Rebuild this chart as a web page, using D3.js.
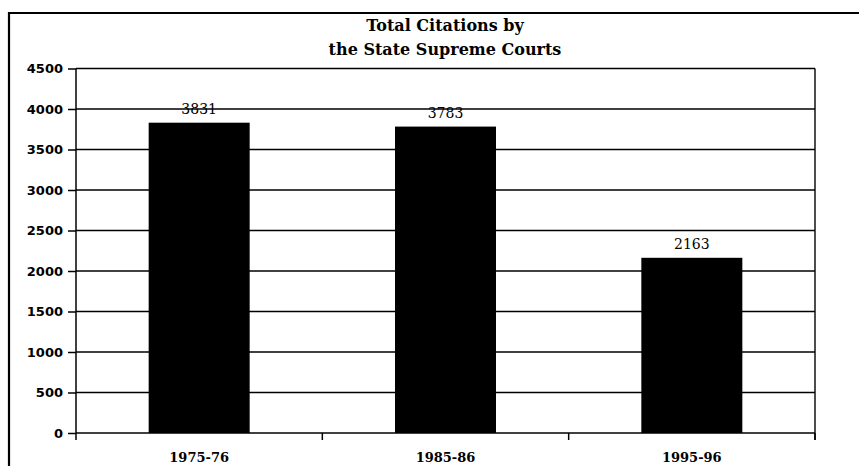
<!DOCTYPE html>
<html><head><meta charset="utf-8">
<script src="https://cdn.jsdelivr.net/npm/d3@7"></script>
<style>body{margin:0;background:#fff}svg{display:block}</style>
</head><body>
<script>
const categories = ["1975-76", "1985-86", "1995-96"];
const values = [3831, 3783, 2163];
const yTicks = [0, 500, 1000, 1500, 2000, 2500, 3000, 3500, 4000, 4500];
const titleLines = ["Total Citations by", "the State Supreme Courts"];

const W = 859, H = 466;
const m = {left: 76, right: 44, top: 68.5, bottom: 33};
const svg = d3.select("body").append("svg").attr("width", W).attr("height", H);

// outer frame
svg.append("path").attr("d", `M9,${H+5}V13H${W+5}`).attr("fill","none").attr("stroke","#000").attr("stroke-width",2.2);

const x = d3.scaleBand().domain(categories).range([m.left, W - m.right]).padding(0);
const y = d3.scaleLinear().domain([0, 4500]).range([H - m.bottom, m.top]);

// gridlines
svg.append("g").selectAll("line").data(yTicks).join("line")
  .attr("x1", m.left).attr("x2", W - m.right)
  .attr("y1", d => y(d)).attr("y2", d => y(d))
  .attr("stroke", "#000").attr("stroke-width", 1.4);
// right border
svg.append("line").attr("x1", W - m.right).attr("x2", W - m.right)
  .attr("y1", y(4500)).attr("y2", y(0) + 7).attr("stroke", "#000").attr("stroke-width", 1.4);

// bars
const bw = x.bandwidth() * 0.41;
svg.append("g").selectAll("rect").data(values).join("rect")
  .attr("x", (d, i) => x(categories[i]) + x.bandwidth()/2 - bw/2)
  .attr("width", bw)
  .attr("y", d => y(d)).attr("height", d => y(0) - y(d))
  .attr("fill", "#000");

// value labels
svg.append("g").selectAll("text").data(values).join("text")
  .attr("x", (d, i) => x(categories[i]) + x.bandwidth()/2)
  .attr("y", d => y(d) - 9)
  .attr("text-anchor", "middle")
  .attr("font-family", "'DejaVu Serif', serif").attr("font-size", 14)
  .attr("fill", "#000")
  .text(d => d);

// y axis
const yAxis = svg.append("g").attr("transform", `translate(${m.left},0)`)
  .call(d3.axisLeft(y).tickValues(yTicks).tickSize(8).tickPadding(5).tickFormat(d3.format("d")));
yAxis.select(".domain").attr("stroke-width", 1.5).attr("d", `M0,${y(4500)}V${y(0)}`);
yAxis.selectAll(".tick line").attr("stroke-width", 1.5);
yAxis.selectAll("text").attr("font-family", "'DejaVu Sans', sans-serif")
  .attr("font-weight", "bold").attr("font-size", 13).attr("fill", "#000");

// x axis
const xTickPos = categories.map(c => x(c)).concat([W - m.right]);
svg.append("g").selectAll("line").data(xTickPos).join("line")
  .attr("x1", d => d).attr("x2", d => d)
  .attr("y1", y(0)).attr("y2", y(0) + 7)
  .attr("stroke", "#000").attr("stroke-width", 1.5);
svg.append("g").selectAll("text").data(categories).join("text")
  .attr("x", d => x(d) + x.bandwidth()/2)
  .attr("y", y(0) + 29)
  .attr("text-anchor", "middle")
  .attr("font-family", "'DejaVu Serif', serif").attr("font-weight", "bold").attr("font-size", 13)
  .attr("fill", "#000")
  .text(d => d);

// title
svg.append("g").selectAll("text").data(titleLines).join("text")
  .attr("x", 445).attr("y", (d, i) => 31 + i * 24)
  .attr("text-anchor", "middle")
  .attr("font-family", "'DejaVu Serif', serif")
  .attr("font-weight", "bold").attr("font-size", 16)
  .attr("fill", "#000")
  .text(d => d);
</script>
</body></html>
